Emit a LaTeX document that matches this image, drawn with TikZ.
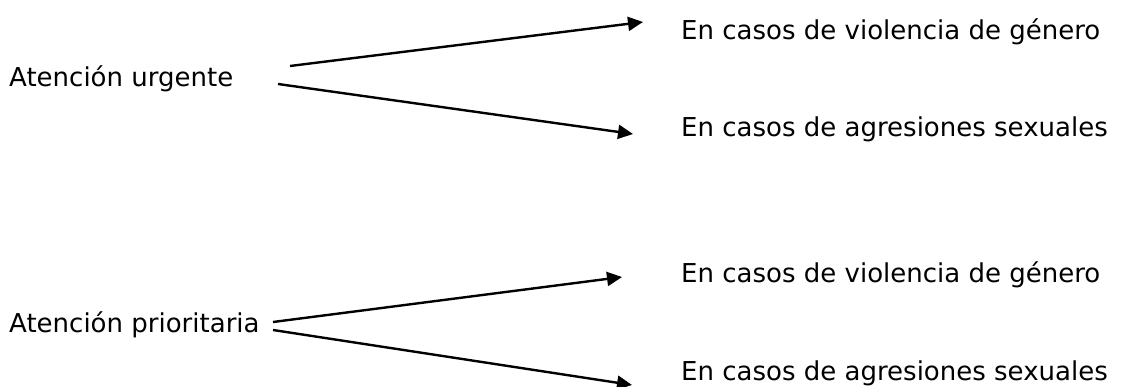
\documentclass[tikz,border=0pt]{standalone}
\usepackage{fontspec}
\setmainfont{DejaVu Sans}
\usetikzlibrary{arrows.meta}
\begin{document}
\begin{tikzpicture}[x=1pt,y=-1pt,
  lbl/.style={anchor=base west,inner sep=0pt,font=\fontsize{26}{31}\selectfont},
  arr/.style={line width=2.4pt,-{Triangle[length=15pt,width=14pt]}}]
\useasboundingbox (0,0) rectangle (1121,387);
\node[lbl] (u)  at (9,87)   {Atención urgente};
\node[lbl] (p)  at (9,332)  {Atención prioritaria};
\node[lbl] (u1) at (681,40)  {En casos de violencia de género};
\node[lbl] (u2) at (681,137) {En casos de agresiones sexuales};
\node[lbl] (p1) at (681,282) {En casos de violencia de género};
\node[lbl] (p2) at (681,380) {En casos de agresiones sexuales};
\coordinate (us1) at (290,66);
\coordinate (us2) at (278,84);
\coordinate (ps1) at (273,322);
\coordinate (ps2) at (273,330);
\coordinate (ue1) at (643,22);
\coordinate (ue2) at (633,134);
\coordinate (pe1) at (622,277);
\coordinate (pe2) at (632,385);
\draw[arr] (us1) -- (ue1);
\draw[arr] (us2) -- (ue2);
\draw[arr] (ps1) -- (pe1);
\draw[arr] (ps2) -- (pe2);
\end{tikzpicture}
\end{document}
